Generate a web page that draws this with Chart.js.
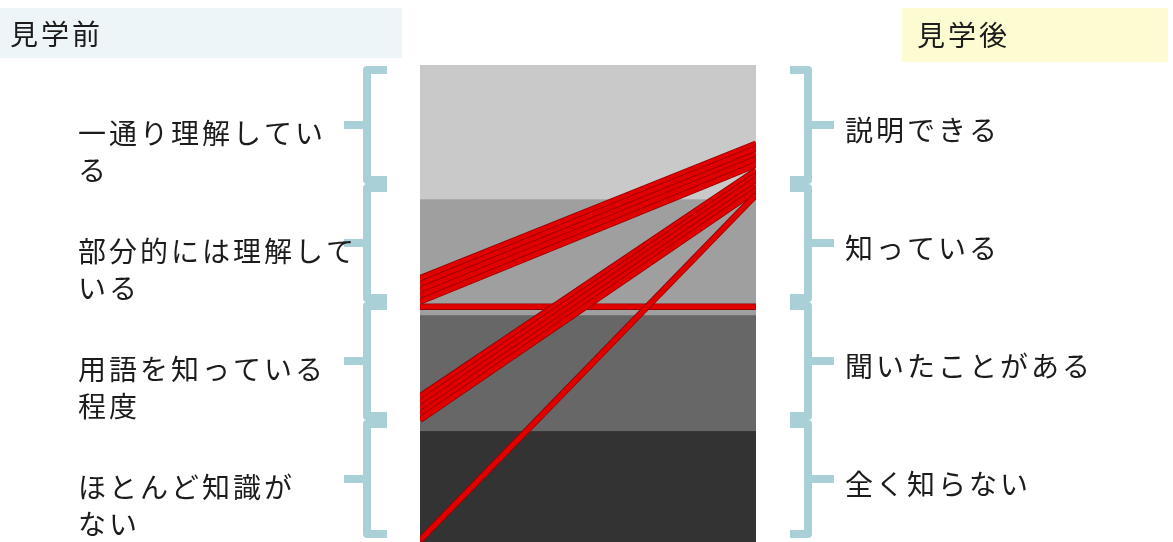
<!DOCTYPE html>
<html lang="ja">
<head>
<meta charset="utf-8">
<script src="https://cdn.jsdelivr.net/npm/chart.js@4.4.1/dist/chart.umd.min.js"></script>
<style>
  html, body { margin: 0; padding: 0; background: #fff; overflow: hidden; }
  canvas { display: block; }
</style>
</head>
<body>
<canvas id="chart" width="1173" height="542"></canvas>
<script>
// headers
const beforeTitle = "見学前";
const afterTitle = "見学後";

// left (before) and right (after) category labels, top to bottom
const beforeLabels = [
  ["一通り理解してい", "る"],
  ["部分的には理解して", "いる"],
  ["用語を知っている", "程度"],
  ["ほとんど知識が", "ない"]
];
const afterLabels = ["説明できる", "知っている", "聞いたことがある", "全く知らない"];

// background bands on the y scale (bottom -> top)
const bandEdges = [0, 1, 2, 3, 4.15];
const bandColors = ["#333333", "#676767", "#9f9f9f", "#c9c9c9"];

// one entry per respondent (position on the scale, jittered as in the picture)
const beforeValues = [2.065, 2.31, 2.26, 2.21, 2.16, 2.11, 1.29, 1.24, 1.19, 1.14, 1.09, 0.05];
const afterValues  = [2.065, 3.47, 3.43, 3.38, 3.34, 3.29, 3.24, 3.20, 3.16, 3.11, 3.07, 3.03];

const FONT = '28px "Noto Sans CJK JP", "Noto Sans CJK SC", sans-serif';

// build datasets: dark outline + bright red core for each respondent
let datasets = [];
beforeValues.forEach((v, i) => {
  const pts = [{ x: 0, y: v }, { x: 1, y: afterValues[i] }];
  datasets.push({ data: pts, borderColor: "#9a0000", borderWidth: 6.5, pointRadius: 0, clip: 0 });
  datasets.push({ data: pts, borderColor: "#e00000", borderWidth: 4.8, pointRadius: 0, clip: 0 });
});
// chart.js draws the last dataset first, so flip to keep the list order
datasets.reverse();

const bandsPlugin = {
  id: "bands",
  beforeDatasetsDraw(chart) {
    const { ctx, chartArea, scales } = chart;
    ctx.save();
    for (let i = 0; i < bandColors.length; i++) {
      const y1 = scales.y.getPixelForValue(bandEdges[i]);
      const y2 = scales.y.getPixelForValue(bandEdges[i + 1]);
      ctx.fillStyle = bandColors[i];
      ctx.fillRect(chartArea.left, y2, chartArea.right - chartArea.left, y1 - y2 + 1);
    }
    ctx.restore();
  }
};

const decorPlugin = {
  id: "decor",
  beforeDraw(chart) {
    const ctx = chart.ctx;
    ctx.save();
    ctx.fillStyle = "#eef5f9";
    ctx.fillRect(0, 8, 402, 50);
    ctx.fillStyle = "#fdfbd2";
    ctx.fillRect(902, 8, 266, 54);
    ctx.restore();
  },
  afterDraw(chart) {
    const { ctx, chartArea } = chart;
    const top = chartArea.top;
    const step = 118;
    ctx.save();

    // braces
    ctx.strokeStyle = "#a9d0d7";
    ctx.lineWidth = 8;
    ctx.lineCap = "butt";
    ctx.lineJoin = "round";
    const sides = [
      { x: 367, hook: 20, tick: -23 },
      { x: 808, hook: -18, tick: 26 }
    ];
    sides.forEach(s => {
      for (let i = 0; i < 4; i++) {
        const a = top + 2 + i * step;
        const b = a + step - 2;
        const m = (a + b) / 2;
        ctx.beginPath();
        ctx.moveTo(s.x + s.hook, a + 3);
        ctx.lineTo(s.x, a + 3);
        ctx.lineTo(s.x, b - 3);
        ctx.lineTo(s.x + s.hook, b - 3);
        ctx.stroke();
        ctx.beginPath();
        ctx.moveTo(s.x, m);
        ctx.lineTo(s.x + s.tick, m);
        ctx.stroke();
      }
    });

    // texts
    ctx.fillStyle = "#1c1c1c";
    ctx.font = FONT;
    ctx.textBaseline = "middle";
    ctx.textAlign = "left";
    ctx.letterSpacing = "3px";
    ctx.fillText(beforeTitle, 10, 34);
    ctx.fillText(afterTitle, 917, 35);

    beforeLabels.forEach((lines, i) => {
      const y = top + 2 + i * step + 66;
      lines.forEach((t, k) => ctx.fillText(t, 78, y + k * 37));
    });
    afterLabels.forEach((t, i) => {
      const y = top + 2 + i * step + 63;
      ctx.fillText(t, 845, y);
    });
    ctx.restore();
  }
};

new Chart(document.getElementById("chart"), {
  type: "line",
  data: { datasets },
  options: {
    responsive: false,
    animation: false,
    events: [],
    layout: { padding: { left: 420, right: 417, top: 65, bottom: 0 } },
    plugins: { legend: { display: false }, tooltip: { enabled: false } },
    scales: {
      x: { type: "linear", min: 0, max: 1, display: false },
      y: { type: "linear", min: 0.035, max: 4.15, display: false }
    }
  },
  plugins: [bandsPlugin, decorPlugin]
});
</script>
</body>
</html>
